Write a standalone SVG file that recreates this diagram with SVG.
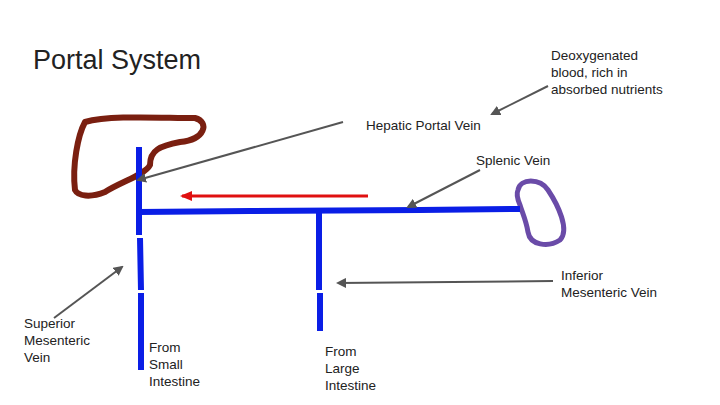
<svg xmlns="http://www.w3.org/2000/svg" width="720" height="405" viewBox="0 0 720 405">
<style>
text{font-family:"Liberation Sans",Arial,sans-serif;font-size:13.5px;fill:#222}
.t{font-size:27px}
.v{stroke:#0a1ee6;stroke-width:6;fill:none}
.g{stroke:#555;stroke-width:2;fill:none;marker-end:url(#ga)}
</style>
<defs>
<marker id="ga" markerWidth="10" markerHeight="10" refX="8" refY="5" orient="auto" markerUnits="userSpaceOnUse"><path d="M0,0 L10,5 L0,10 z" fill="#555"/></marker>
<marker id="ra" markerWidth="12" markerHeight="10" refX="10" refY="5" orient="auto" markerUnits="userSpaceOnUse"><path d="M0,0 L12,5 L0,10 z" fill="#e01010"/></marker>
</defs>
<rect width="720" height="405" fill="#fff"/>
<text class="t" x="33" y="69">Portal System</text>
<g id="liver"><path d="M75,190 C72,165 78,135 85,122 C110,115 160,118 195,118 C210,122 205,140 180,142 C160,146 150,150 150,165 C145,175 120,182 105,192 C90,198 78,196 75,190 Z" fill="none" stroke="#7a1f10" stroke-width="6" stroke-linejoin="round"/></g>
<g id="spleen"><path d="M518,190 C520,178 540,178 548,190 C558,205 570,230 560,240 C548,248 530,245 528,232 C526,220 522,212 520,205 C517,198 516,194 518,190 Z" fill="none" stroke="#6a4ba8" stroke-width="5"/></g>
<g id="veins">
<path class="v" d="M139,147 L139,235 M140,238 L141,290 M141,293 L141,370"/>
<path class="v" d="M139,212 L250,211 L420,210 L520,209"/>
<path class="v" d="M319,211 L319,290 M320,293 L320,331"/>
</g>
<g id="connectors">
<path d="M368,196 L182,196" stroke="#e01010" stroke-width="3" marker-end="url(#ra)"/>
<path class="g" d="M343,122 L138,180"/>
<path class="g" d="M548,86 L492,114"/>
<path class="g" d="M480,170 L408,207"/>
<path class="g" d="M553,281 L338,283"/>
<path class="g" d="M54,318 L122,267"/>
</g>
<g id="labels">
<text x="551" y="60">Deoxygenated</text><text x="551" y="77">blood, rich in</text><text x="551" y="94">absorbed nutrients</text>
<text x="366" y="130">Hepatic Portal Vein</text>
<text x="476" y="165">Splenic Vein</text>
<text x="561" y="280">Inferior</text><text x="561" y="297">Mesenteric Vein</text>
<text x="24" y="328">Superior</text><text x="24" y="345">Mesenteric</text><text x="24" y="362">Vein</text>
<text x="149" y="352">From</text><text x="149" y="369">Small</text><text x="149" y="386">Intestine</text>
<text x="325" y="356">From</text><text x="325" y="373">Large</text><text x="325" y="390">Intestine</text>
</g>
</svg>
